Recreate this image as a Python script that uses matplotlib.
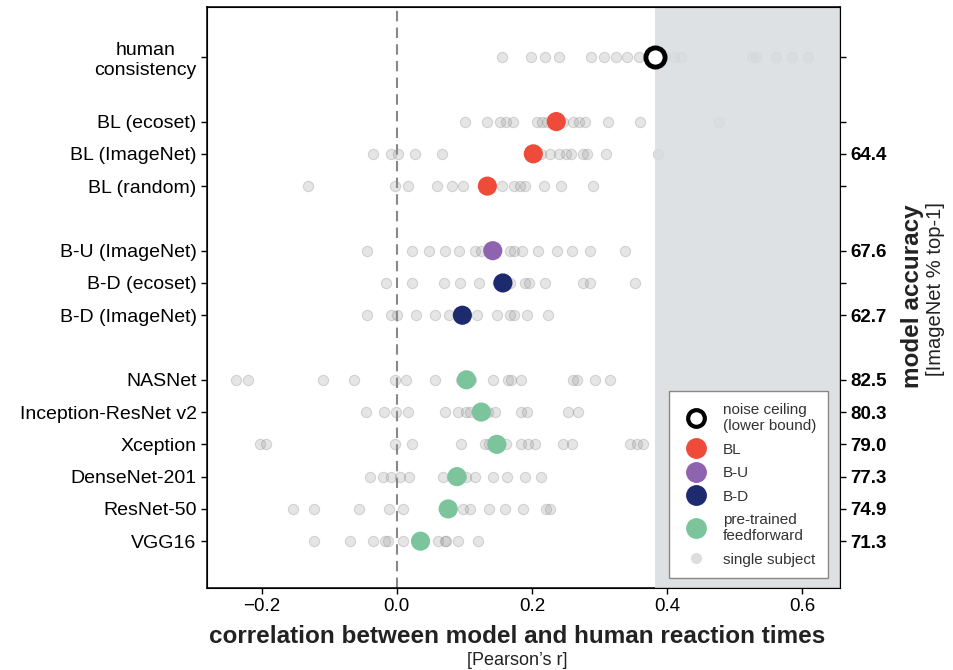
import matplotlib
matplotlib.use("Agg")
import matplotlib.pyplot as plt
from matplotlib.lines import Line2D
import numpy as np

plt.rcParams['font.family'] = ['Liberation Sans', 'DejaVu Sans']

# ---------------- data ----------------
row_labels = ["human\nconsistency", "BL (ecoset)", "BL (ImageNet)", "BL (random)",
              "B-U (ImageNet)", "B-D (ecoset)", "B-D (ImageNet)",
              "NASNet", "Inception-ResNet v2", "Xception", "DenseNet-201",
              "ResNet-50", "VGG16"]
row_pos = [0, 2, 3, 4, 6, 7, 8, 10, 11, 12, 13, 14, 15]
accuracy_labels = ["", "", "64.4", "", "67.6", "", "62.7",
                   "82.5", "80.3", "79.0", "77.3", "74.9", "71.3"]
groups = ["human", "BL", "BL", "BL", "B-U", "B-D", "B-D",
          "ff", "ff", "ff", "ff", "ff", "ff"]
means = [0.382, 0.236, 0.202, 0.134, 0.142, 0.157, 0.097,
         0.103, 0.125, 0.148, 0.089, 0.076, 0.035]

subjects = [
    [0.155, 0.198, 0.219, 0.240, 0.287, 0.307, 0.325, 0.341, 0.358, 0.373,
     0.397, 0.410, 0.420, 0.525, 0.532, 0.562, 0.585, 0.609],
    [0.101, 0.134, 0.152, 0.162, 0.172, 0.207, 0.215, 0.222, 0.231, 0.246,
     0.261, 0.270, 0.279, 0.313, 0.360, 0.477],
    [-0.035, -0.008, 0.002, 0.027, 0.067, 0.205, 0.213, 0.227, 0.240, 0.250,
     0.258, 0.276, 0.282, 0.310, 0.387],
    [-0.132, -0.002, 0.016, 0.060, 0.081, 0.098, 0.130, 0.155, 0.174, 0.183,
     0.190, 0.218, 0.243, 0.290],
    [-0.044, 0.022, 0.047, 0.071, 0.092, 0.116, 0.125, 0.140, 0.168, 0.174,
     0.186, 0.209, 0.237, 0.260, 0.286, 0.338],
    [-0.016, 0.022, 0.070, 0.094, 0.121, 0.150, 0.168, 0.189, 0.195, 0.219,
     0.276, 0.286, 0.352],
    [-0.044, -0.008, 0.000, 0.028, 0.057, 0.077, 0.092, 0.118, 0.148, 0.168,
     0.174, 0.192, 0.224],
    [-0.238, -0.221, -0.110, -0.063, -0.002, 0.013, 0.056, 0.095, 0.110, 0.142,
     0.164, 0.169, 0.184, 0.261, 0.266, 0.293, 0.315],
    [-0.045, -0.019, -0.001, 0.017, 0.071, 0.090, 0.103, 0.109, 0.130, 0.135,
     0.146, 0.184, 0.192, 0.253, 0.268],
    [-0.203, -0.194, -0.003, 0.022, 0.095, 0.130, 0.137, 0.152, 0.162, 0.184,
     0.194, 0.204, 0.246, 0.260, 0.345, 0.355, 0.364],
    [-0.040, -0.021, -0.008, 0.005, 0.018, 0.068, 0.081, 0.095, 0.103, 0.115,
     0.143, 0.163, 0.189, 0.214],
    [-0.153, -0.122, -0.056, -0.011, 0.009, 0.080, 0.098, 0.108, 0.136, 0.160,
     0.187, 0.221, 0.226],
    [-0.122, -0.070, -0.036, -0.017, -0.013, 0.009, 0.040, 0.061, 0.071, 0.073,
     0.090, 0.120],
]

colors = {"BL": "#EE4B3B", "B-U": "#8E63B0", "B-D": "#1E2A6E", "ff": "#7CC49C"}
noise_ceiling = 0.382

# ---------------- figure ----------------
fig = plt.figure(figsize=(9.54, 6.70), dpi=100)
ax = fig.add_axes([0.217, 0.1224, 0.6635, 0.8672])

ax.set_xlim(-0.281, 0.656)
ax.set_ylim(16.45, -1.55)

# single subjects
for y, vals in zip(row_pos, subjects):
    ax.scatter(vals, [y] * len(vals), s=55, facecolor=(0.6, 0.6, 0.6, 0.25),
               edgecolor=(0.45, 0.45, 0.45, 0.25), linewidth=0.8, zorder=2)

# shaded region beyond noise ceiling
ax.axvspan(noise_ceiling, 0.7, facecolor="#D9DCDF", alpha=0.85, zorder=3,
           linewidth=0)

ax.axvline(0, color="#888888", linestyle=(0, (5, 3)), linewidth=1.5, zorder=1)

# model means
for y, m, g in zip(row_pos, means, groups):
    if g == "human":
        ax.scatter([m], [y], s=190, facecolor="white", edgecolor="black",
                   linewidth=3.5, zorder=5)
    else:
        ax.scatter([m], [y], s=190, color=colors[g], edgecolor="none", zorder=5)

ax.set_yticks(row_pos)
ax.set_yticklabels(row_labels, fontsize=14, ha="right", multialignment="center")
ax.set_xticks([-0.2, 0.0, 0.2, 0.4, 0.6])
ax.set_xticklabels(["\u22120.2", "0.0", "0.2", "0.4", "0.6"], fontsize=13.5)
ax.tick_params(axis="both", length=4, width=1)
for s in ax.spines.values():
    s.set_linewidth(1.1)

ax2 = ax.twinx()
ax2.set_ylim(ax.get_ylim())
ax2.set_yticks(row_pos)
ax2.set_yticklabels(accuracy_labels, fontsize=13.5, fontweight="bold")
ax2.tick_params(axis="y", length=4, width=1)

# axis titles
fig.text(0.542, 0.050, "correlation between model and human reaction times",
         ha="center", va="center", fontsize=17.5, fontweight="bold", color="#222222")
fig.text(0.542, 0.014, "[Pearson\u2019s r]", ha="center", va="center",
         fontsize=13, color="#222222")
fig.text(0.956, 0.558, "model accuracy", rotation=90, ha="center", va="center",
         fontsize=17.5, fontweight="bold", color="#222222")
fig.text(0.981, 0.569, "[ImageNet % top-1]", rotation=90, ha="center",
         va="center", fontsize=14.5, color="#222222")

# legend
handles = [
    Line2D([], [], marker="o", linestyle="none", markersize=12,
           markerfacecolor="white", markeredgecolor="black", markeredgewidth=3),
    Line2D([], [], marker="o", linestyle="none", markersize=14,
           color=colors["BL"]),
    Line2D([], [], marker="o", linestyle="none", markersize=14,
           color=colors["B-U"]),
    Line2D([], [], marker="o", linestyle="none", markersize=14,
           color=colors["B-D"]),
    Line2D([], [], marker="o", linestyle="none", markersize=14,
           color=colors["ff"]),
    Line2D([], [], marker="o", linestyle="none", markersize=7,
           markerfacecolor="#DDDDDD", markeredgecolor="#DDDDDD"),
]
labels = ["noise ceiling\n(lower bound)", "BL", "B-U", "B-D",
          "pre-trained\nfeedforward", "single subject"]
leg = ax.legend(handles, labels, loc="lower right",
                bbox_to_anchor=(0.981, 0.017), borderaxespad=0, fontsize=11,
                frameon=True, fancybox=False, edgecolor="#888888", framealpha=1,
                labelspacing=0.62, handletextpad=0.8, borderpad=0.75,
                labelcolor="#333333")
leg.set_zorder(10)

fig.savefig("out.png", dpi=100)
